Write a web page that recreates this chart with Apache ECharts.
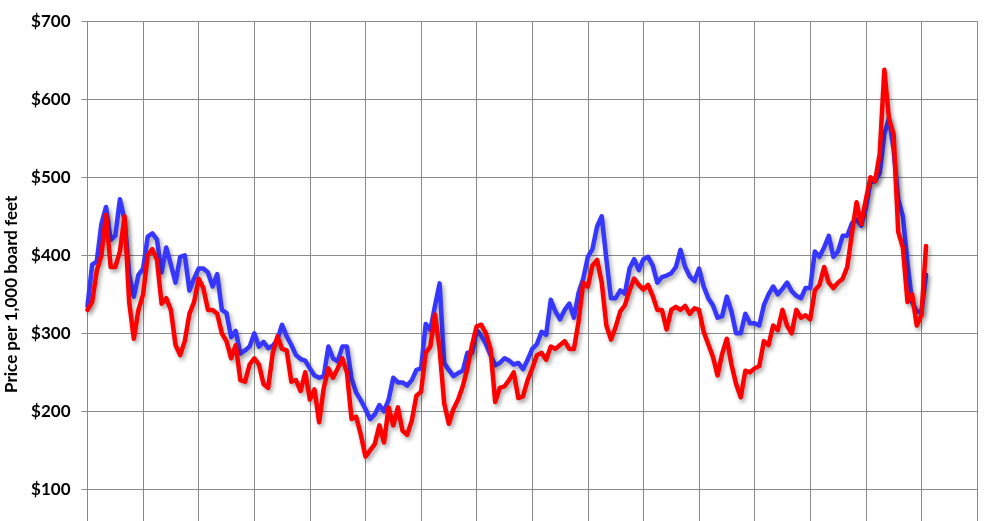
<!DOCTYPE html>
<html>
<head>
<meta charset="utf-8">
<script src="https://cdn.jsdelivr.net/npm/echarts@6/dist/echarts.min.js"></script>
<style>
html,body{margin:0;padding:0;background:#fff;}
#chart{width:992px;height:521px;}
</style>
</head>
<body>
<div id="chart"></div>
<script>
// Monthly observations (16 year intervals on the x axis, 12 months each)
const yearCount = 16;
const monthsPerYear = 12;
const categories = Array.from({length: yearCount * monthsPerYear + 1}, (_, i) => 'Y' + (Math.floor(i / 12) + 1) + '-M' + (i % 12 + 1));

const yTickValues = [0, 100, 200, 300, 400, 500, 600, 700];
const yAxisTitle = 'Price per 1,000 board feet';

const blueSeries = [335,388,392,440,462,420,425,472,445,375,
347,375,383,424,428,420,378,410,388,365,
398,400,355,370,383,383,378,360,376,330,
326,295,303,274,278,283,300,283,289,281,
284,292,311,296,285,272,267,265,255,246,
243,245,283,268,264,283,283,242,224,214,
203,190,196,208,200,215,243,237,237,233,
240,253,255,312,304,335,364,262,253,245,
249,252,275,275,304,297,286,272,259,262,
268,265,260,262,254,266,280,286,302,298,
343,328,318,330,338,320,352,370,398,408,
437,450,395,345,345,355,351,383,395,381,
395,398,387,365,372,374,377,385,407,385,
373,367,383,360,345,336,320,322,347,328,
300,300,325,313,313,310,336,350,360,350,
357,365,354,348,345,358,358,405,398,410,
425,398,405,425,425,441,446,438,460,494,
495,505,555,576,535,472,450,390,340,328,
327,375];

const redSeries = [330,340,380,400,452,385,385,405,450,340,
293,330,350,400,408,394,338,345,330,285,
272,290,325,340,370,358,330,330,325,300,
290,268,285,240,238,260,268,260,235,230,
275,296,280,278,238,240,226,250,215,228,
186,230,255,243,255,268,250,190,193,170,
142,150,158,182,160,205,182,205,175,170,
188,220,225,275,283,324,280,210,184,203,
215,232,255,285,309,311,300,280,212,230,
232,240,250,217,219,240,255,272,275,266,
283,280,285,290,280,280,315,365,360,387,
394,365,310,292,308,328,336,355,370,362,
356,362,348,330,330,305,330,334,330,335,
325,332,330,302,286,270,246,274,293,260,
235,218,252,250,255,258,290,285,310,304,
330,310,300,330,320,323,318,355,362,385,
365,358,365,370,385,428,468,440,471,500,
495,530,638,575,555,430,410,340,350,310,
323,412];

const chart = echarts.init(document.getElementById('chart'), null, {renderer: 'canvas'});
const gridColor = '#8a8a8a';
const shadow = {shadowColor: 'rgba(0,0,0,0.35)', shadowBlur: 4, shadowOffsetX: 2, shadowOffsetY: 3};

chart.setOption({
  animation: false,
  backgroundColor: '#ffffff',
  grid: {left: 87.5, right: 15, top: 21.3, height: 546, containLabel: false, outerBoundsMode: 'none'},
  xAxis: {
    type: 'category',
    data: categories,
    boundaryGap: false,
    axisLine: {show: false},
    axisTick: {show: false},
    axisLabel: {show: false},
    splitLine: {
      show: true,
      interval: (i) => i % monthsPerYear === 0,
      lineStyle: {color: gridColor, width: 1}
    }
  },
  yAxis: {
    type: 'value',
    min: yTickValues[0],
    max: yTickValues[yTickValues.length - 1],
    interval: 100,
    name: yAxisTitle,
    nameLocation: 'middle',
    nameGap: 62,
    nameTextStyle: {fontFamily: 'Lato', fontWeight: 'bold', fontSize: 17, color: '#000'},
    axisLine: {show: true, lineStyle: {color: gridColor, width: 1}},
    axisTick: {show: true, length: 6, lineStyle: {color: gridColor, width: 1}},
    axisLabel: {
      formatter: (v) => '$' + v,
      fontFamily: 'Lato', fontWeight: 'bold', fontSize: 17, color: '#000', margin: 17
    },
    splitLine: {show: true, lineStyle: {color: gridColor, width: 1}}
  },
  series: [
    {
      type: 'line', data: blueSeries, showSymbol: false, smooth: false,
      lineStyle: Object.assign({color: '#3636ff', width: 4.5, join: 'round', cap: 'round'}, shadow),
      itemStyle: {color: '#3636ff'}, z: 2
    },
    {
      type: 'line', data: redSeries, showSymbol: false, smooth: false,
      lineStyle: Object.assign({color: '#ff0000', width: 4.5, join: 'round', cap: 'round'}, shadow),
      itemStyle: {color: '#ff0000'}, z: 3
    }
  ]
});
</script>
</body>
</html>
